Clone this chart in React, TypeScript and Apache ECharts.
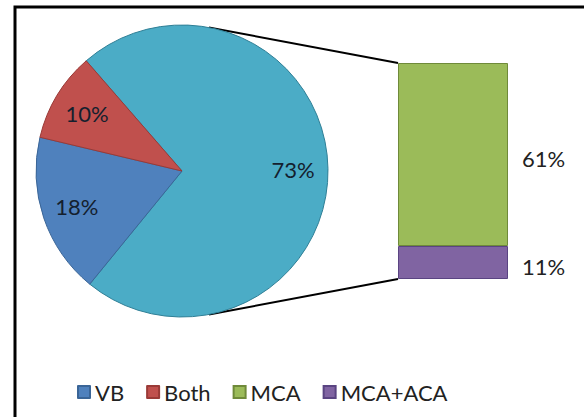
import React, { useEffect, useRef } from "react";
import * as echarts from "echarts";

const pieNames = ["Other", "VB", "Both"];
const pieValues = [73, 18, 10];
const barNames = ["MCA+ACA", "MCA"];
const barValues = [11, 61];
const legendNames = ["VB", "Both", "MCA", "MCA+ACA"];

const colors: Record<string, string> = {
  Other: "#4BACC6",
  VB: "#4F81BD",
  Both: "#C0504D",
  MCA: "#9BBB59",
  "MCA+ACA": "#8064A2",
};
const borders: Record<string, string> = {
  Other: "#2f7f96",
  VB: "#3a6597",
  Both: "#9a3a37",
  MCA: "#6f8a3a",
  "MCA+ACA": "#5a4482",
};

const FONT = "Lato, 'DejaVu Sans', sans-serif";

export default function App() {
  const ref = useRef<HTMLDivElement>(null);
  useEffect(() => {
    if (!ref.current) return;
    const chart = echarts.init(ref.current, null, { renderer: "svg" });
    const cx = 182, cy = 171, R = 146;
    const gLeft = 398, gTop = 63, gW = 110, gH = 216;
    const yMax = barValues.reduce((a, b) => a + b, 0);
    const topY = gTop + gH * (1 - barValues.reduce((a, b) => a + b, 0) / yMax);
    const botY = gTop + gH;
    const tangent = (px: number, py: number, sign: number) => {
      const dx = px - cx, dy = py - cy;
      const d = Math.sqrt(dx * dx + dy * dy);
      const th = Math.atan2(dy, dx);
      const a = Math.acos(R / d);
      const ang = th + sign * a;
      return [cx + R * Math.cos(ang), cy + R * Math.sin(ang)];
    };
    const t1 = tangent(gLeft, topY, -1);
    const t2 = tangent(gLeft, botY, 1);

    const pieData = pieNames.map((n, i) => ({
      name: n,
      value: pieValues[i],
      itemStyle: { color: colors[n], borderColor: borders[n], borderWidth: 1 },
    }));

    chart.setOption({
      animation: false,
      legend: {
        data: legendNames,
        left: 77,
        top: 381,
        padding: 0,
        itemWidth: 12,
        itemHeight: 12,
        itemGap: 22,
        icon: "rect",
        textStyle: { fontFamily: FONT, fontSize: 22, color: "#222" },
        selectedMode: false,
      },
      grid: { left: gLeft, top: gTop, width: gW, height: gH },
      xAxis: { type: "category", data: ["Other"], show: false },
      yAxis: { type: "value", min: 0, max: yMax, show: false },
      graphic: [
        {
          type: "rect",
          shape: { x: 15, y: 7, width: 620, height: 460 },
          style: { fill: "none", stroke: "#000", lineWidth: 3 },
          silent: true,
        },
        {
          type: "line",
          shape: { x1: t1[0], y1: t1[1], x2: gLeft, y2: topY },
          style: { stroke: "#000", lineWidth: 2 },
          silent: true,
        },
        {
          type: "line",
          shape: { x1: t2[0], y1: t2[1], x2: gLeft, y2: botY },
          style: { stroke: "#000", lineWidth: 2 },
          silent: true,
        },
      ],
      series: [
        {
          type: "pie",
          center: [cx, cy],
          radius: [0, R],
          startAngle: 131,
          clockwise: true,
          data: pieData,
          label: { show: false },
          labelLine: { show: false },
          silent: true,
        },
        {
          type: "pie",
          center: [cx, cy],
          radius: [70, R],
          startAngle: 131,
          clockwise: true,
          data: pieNames.map((n, i) => ({ name: n, value: pieValues[i] })),
          itemStyle: { color: "rgba(0,0,0,0)" },
          label: {
            show: true,
            position: "inside",
            formatter: "{c}%",
            fontFamily: FONT,
            fontSize: 22,
            color: "#14202e",
          },
          labelLine: { show: false },
          silent: true,
          z: 3,
        },
        ...barNames.map((n, i) => ({
          type: "bar",
          name: n,
          stack: "s",
          barWidth: "100%",
          data: [barValues[i]],
          itemStyle: { color: colors[n], borderColor: borders[n], borderWidth: 1 },
          label: {
            show: true,
            position: "right",
            distance: 14,
            offset: [0, 4],
            formatter: "{c}%",
            fontFamily: FONT,
            fontSize: 22,
            color: "#222",
          },
          silent: true,
        })),
      ],
    });
    return () => chart.dispose();
  }, []);
  return (
    <div
      ref={ref}
      style={{ position: "fixed", left: 0, top: 0, width: 584, height: 417, background: "#fff" }}
    />
  );
}
